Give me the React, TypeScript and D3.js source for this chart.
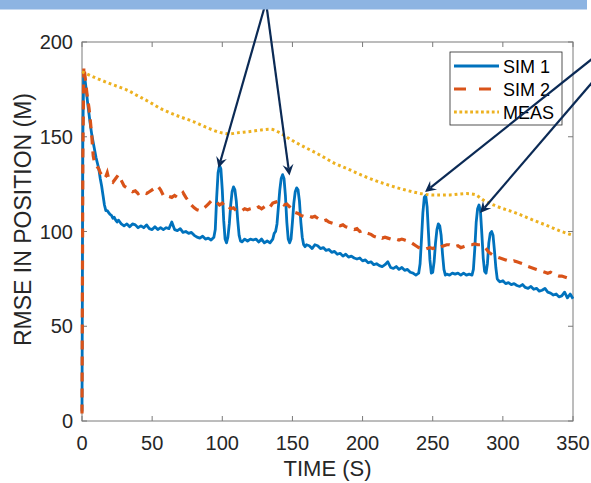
import React from "react";
import * as d3 from "d3";

// ---- Data (time in s, RMSE in m) ----
const sim1: [number, number][] = [
  [0, 5], [0.6, 150], [1.2, 184], [2, 181], [3, 175], [4, 168], [5, 162], [6, 156], [7, 151], [8, 147],
  [9, 143], [10, 139], [11, 136], [12, 133], [13, 128], [14, 124], [15, 119], [16, 114], [17, 111], [18, 111],
  [19, 110], [20, 109], [21, 108.5], [22, 107], [23, 107.5], [24, 106], [25, 105], [26, 106], [27, 105], [28, 104],
  [29, 103.5], [30, 103], [32, 104], [34, 102.5], [36, 104], [38, 103.5], [40, 102], [42, 103], [44, 102], [46, 103.5],
  [48, 101.5], [50, 101], [52, 102.5], [54, 101], [56, 102], [58, 101], [60, 102], [62, 101.5], [64, 105], [65, 103],
  [66, 101], [68, 100.5], [70, 101.5], [72, 99.5], [74, 100], [76, 99], [78, 99.5], [80, 98], [82, 97], [84, 96.5],
  [86, 97.5], [88, 96], [90, 96.5], [92, 95.5], [94, 97], [95, 101], [96, 118], [97, 131], [98, 135], [99, 133],
  [100, 122], [101, 106], [102, 96], [103, 94], [104, 97], [105, 104], [106, 114], [107, 121], [108, 123.5], [109, 122],
  [110, 116], [111, 106], [112, 98], [113, 95], [114, 94.5], [116, 96], [118, 95], [120, 96], [122, 95.5], [124, 96],
  [126, 94.5], [128, 96], [130, 94], [132, 95], [134, 94], [136, 96], [137, 99], [138, 100], [139, 104], [140, 113],
  [141, 122], [142, 128], [143, 130], [144, 128], [145, 119], [146, 105], [147, 96], [148, 94], [149, 96], [150, 105],
  [151, 115], [152, 121], [153, 123], [154, 122], [155, 116], [156, 105], [157, 97], [158, 93], [159, 92], [160, 93],
  [162, 92.5], [164, 91], [166, 93], [168, 92.5], [170, 91], [172, 91.5], [174, 90], [176, 90.5], [178, 89], [180, 89.5],
  [182, 88], [184, 88.5], [186, 87], [188, 88], [190, 86.5], [192, 87], [194, 86], [196, 85.5], [198, 86], [200, 84.5],
  [202, 85], [204, 83.5], [206, 84], [208, 82.5], [210, 83], [212, 82], [214, 81.5], [216, 82.5], [218, 84], [220, 81],
  [222, 80.5], [224, 81.5], [226, 80], [228, 81], [230, 79.5], [232, 80], [234, 78.5], [236, 78], [238, 77], [240, 78],
  [241, 83], [242, 96], [243, 110], [244, 118], [245, 119], [246, 113], [247, 99], [248, 85], [249, 78], [250, 78.5],
  [251, 84], [252, 94], [253, 101], [254, 104], [255, 103], [256, 98], [257, 88], [258, 80], [259, 77], [260, 77.5],
  [262, 77], [264, 78], [266, 77.5], [268, 78], [270, 77], [272, 78], [274, 77], [276, 77.5], [278, 77], [279, 80],
  [280, 91], [281, 105], [282, 112], [283, 114], [284, 111], [285, 99], [286, 86], [287, 79], [288, 78], [289, 83],
  [290, 94], [291, 99], [292, 100], [293, 98], [294, 90], [295, 81], [296, 75], [297, 74], [298, 73.5], [300, 74],
  [302, 72.5], [304, 73], [306, 72], [308, 72.5], [310, 71.5], [312, 71], [314, 72], [316, 70.5], [318, 70], [320, 71],
  [322, 69.5], [324, 70], [326, 68.5], [328, 69], [330, 70], [332, 68], [334, 67.5], [336, 66.5], [338, 67], [340, 65.5],
  [342, 66], [344, 68], [346, 65], [348, 67], [350, 64.5],
];

const sim2: [number, number][] = [
  [0, 4], [0.6, 140], [1.3, 187], [2, 183], [3, 176], [4, 170], [5, 165], [6, 158], [7, 150], [8, 140],
  [9, 136], [10, 135], [11, 134], [12, 133], [13, 131], [14, 130], [15, 129.5], [16, 128], [17, 129], [18, 131],
  [19, 128], [20, 127], [22, 126], [24, 128], [26, 130], [28, 127], [30, 124], [32, 123], [34, 122], [36, 121],
  [38, 121.5], [40, 120], [42, 121], [44, 120.5], [46, 120], [48, 121], [50, 122], [52, 123], [54, 124], [56, 122],
  [58, 119], [60, 118], [62, 118.5], [64, 118], [66, 119], [68, 118], [70, 119], [72, 120.5], [74, 118], [76, 116],
  [78, 114], [80, 112.5], [82, 111.5], [84, 111], [86, 112], [88, 113], [90, 114.5], [92, 116], [94, 115], [96, 115.5],
  [98, 114], [100, 115], [102, 113], [104, 113.5], [106, 112], [108, 112.5], [110, 111], [112, 111.5], [114, 111], [116, 112],
  [118, 111.5], [120, 112], [122, 112.5], [124, 112], [126, 113], [128, 112], [130, 113], [132, 114], [134, 113], [136, 115],
  [138, 115.5], [140, 116], [142, 115], [144, 114], [146, 114.5], [148, 113], [150, 111], [152, 110], [154, 109.5], [156, 108.5],
  [158, 108], [160, 108.5], [162, 108], [164, 107.5], [166, 108], [168, 107], [170, 106], [172, 105.5], [174, 106], [176, 105],
  [178, 104.5], [180, 104], [182, 103.5], [184, 103], [186, 103.5], [188, 102.5], [190, 102], [192, 101.5], [194, 101], [196, 101.5],
  [198, 100], [200, 100.5], [202, 99.5], [204, 99], [206, 98.5], [208, 97.5], [210, 97], [212, 97.5], [214, 96.5], [216, 97],
  [218, 96.5], [220, 96], [222, 96.5], [224, 96], [226, 95.5], [228, 96], [230, 95.5], [232, 95], [234, 94.5], [236, 93.5],
  [238, 92.5], [240, 91.5], [242, 91], [244, 90.5], [246, 91], [248, 91.5], [250, 91], [252, 91.5], [254, 91], [256, 92],
  [258, 92.5], [260, 93], [262, 93], [264, 92.5], [266, 92], [268, 92.5], [270, 91.5], [272, 92], [274, 92.5], [276, 93],
  [278, 93], [280, 93.5], [282, 93], [284, 93], [286, 92.5], [288, 91], [290, 89], [292, 88], [294, 87], [296, 86.5],
  [298, 86], [300, 85.5], [302, 85], [304, 84.5], [306, 84], [308, 84.5], [310, 84], [312, 83.5], [314, 83], [316, 82],
  [318, 81.5], [320, 81], [322, 80.5], [324, 80], [326, 79.5], [328, 79], [330, 78.5], [332, 78], [334, 78.5], [336, 77.5],
  [338, 77], [340, 76.5], [342, 76.5], [344, 76], [346, 75.5], [348, 75.5], [350, 75],
];

const meas: [number, number][] = [
  [0, 184.3], [10, 181], [20, 178], [31.8, 174.7], [40, 171.5], [50, 167.5], [55.6, 165], [60, 163.5], [70, 160.5],
  [79.4, 158], [90, 154.5], [100, 152], [105, 151.5], [110, 152], [120, 152.8], [127, 153.5], [134, 154], [140, 152.5],
  [143.5, 151], [150, 148], [160, 144], [167.3, 141.3], [180, 136], [191, 132.5], [200, 129.5], [214.8, 125.4],
  [230, 122], [243.3, 119.8], [250, 119.2], [262.3, 119.3], [274, 120], [280, 119.5], [286, 116.6], [295, 113.5],
  [309.9, 109.6], [320, 106.5], [333.6, 102.5], [340, 100.5], [350, 98],
];

const xTicks = [0, 50, 100, 150, 200, 250, 300, 350];
const yTicks = [0, 50, 100, 150, 200];
const seriesNames = ["SIM 1", "SIM 2", "MEAS"];
const xTitle = "TIME (S)";
const yTitle = "RMSE IN POSITION (M)";

// arrows: [fromX, fromY, toX, toY] in pixel annotation space (like figure annotations)
const arrows: [number, number, number, number][] = [
  [266, 2, 218.5, 168],
  [266, 2, 289.5, 175.5],
  [602, 51, 425, 192],
  [602, 71, 480, 213],
];

const W = 591;
const H = 483;
const M = { left: 82, right: 18, top: 42, bottom: 62 };
const FONT = "'Liberation Sans', Arial, Helvetica, sans-serif";
const COLORS = ["#0072BD", "#D95319", "#EDB120"];

export default function App() {
  const x = d3.scaleLinear().domain([0, 350]).range([M.left, W - M.right]);
  const y = d3.scaleLinear().domain([0, 200]).range([H - M.bottom, M.top]);
  const line = d3
    .line<[number, number]>()
    .x((d) => x(d[0]))
    .y((d) => y(d[1]));
  const smooth = d3
    .line<[number, number]>()
    .x((d) => x(d[0]))
    .y((d) => y(d[1]))
    .curve(d3.curveMonotoneX);

  const x0 = x(0), x1 = x(350), y0 = y(0), y1 = y(200);
  const axisColor = "#7a7a7a";
  const textColor = "#262626";

  const arrowHead = (fx: number, fy: number, tx: number, ty: number) => {
    const ang = Math.atan2(ty - fy, tx - fx);
    const L = 11, Wd = 5.5, N = 7;
    const ux = Math.cos(ang), uy = Math.sin(ang);
    const px = -uy, py = ux;
    const bx = tx - ux * L, by = ty - uy * L;
    const nx = tx - ux * N, ny = ty - uy * N;
    return `M${tx},${ty}L${bx + px * Wd},${by + py * Wd}L${nx},${ny}L${bx - px * Wd},${by - py * Wd}Z`;
  };

  const legendX = 450, legendY = 52, legendW = 112, legendH = 73;
  const rowY = [66, 89, 112];

  return (
    <svg
      width={W}
      height={H}
      style={{ position: "absolute", left: 0, top: 0, background: "#fff" }}
      fontFamily={FONT}
    >
      <rect x={0} y={0} width={W} height={H} fill="#fff" />
      {/* axes box */}
      <rect x={x0} y={y1} width={x1 - x0} height={y0 - y1} fill="none" stroke={axisColor} strokeWidth={1} />
      {xTicks.map((t) => (
        <g key={"xt" + t}>
          <line x1={x(t)} x2={x(t)} y1={y0} y2={y0 - 5} stroke={axisColor} />
          <line x1={x(t)} x2={x(t)} y1={y1} y2={y1 + 5} stroke={axisColor} />
          <text x={x(t)} y={y0 + 29} textAnchor="middle" fontSize={20} fill={textColor}>
            {t}
          </text>
        </g>
      ))}
      {yTicks.map((t) => (
        <g key={"yt" + t}>
          <line x1={x0} x2={x0 + 5} y1={y(t)} y2={y(t)} stroke={axisColor} />
          <line x1={x1} x2={x1 - 5} y1={y(t)} y2={y(t)} stroke={axisColor} />
          <text x={x0 - 9} y={y(t) + 7} textAnchor="end" fontSize={20} fill={textColor}>
            {t}
          </text>
        </g>
      ))}
      <text x={(x0 + x1) / 2} y={476} textAnchor="middle" fontSize={22} fill={textColor}>
        {xTitle}
      </text>
      <text
        transform={`translate(31,${(y0 + y1) / 2 - 12}) rotate(-90)`}
        textAnchor="middle"
        fontSize={23}
        fill={textColor}
      >
        {yTitle}
      </text>

      {/* series */}
      <path d={line(sim1) ?? ""} fill="none" stroke={COLORS[0]} strokeWidth={2.8} strokeLinejoin="round" />
      <path d={line(sim2) ?? ""} fill="none" stroke={COLORS[1]} strokeWidth={3.2} strokeDasharray="9,7" />
      <path d={smooth(meas) ?? ""} fill="none" stroke={COLORS[2]} strokeWidth={3} strokeDasharray="2.8,3" />

      {/* legend */}
      <rect x={legendX} y={legendY} width={legendW} height={legendH} fill="#fff" stroke="#262626" strokeWidth={0.8} />
      {seriesNames.map((n, i) => (
        <g key={n}>
          <line
            x1={454}
            x2={499}
            y1={rowY[i]}
            y2={rowY[i]}
            stroke={COLORS[i]}
            strokeWidth={i === 0 ? 2.8 : 3}
            strokeDasharray={i === 1 ? "12,13" : i === 2 ? "2.8,2.6" : undefined}
          />
          <text x={503} y={rowY[i] + 7} fontSize={18} fill="#000">
            {n}
          </text>
        </g>
      ))}

      {/* arrows */}
      {arrows.map(([fx, fy, tx, ty], i) => {
        const ang = Math.atan2(ty - fy, tx - fx);
        const ex = tx - Math.cos(ang) * 7, ey = ty - Math.sin(ang) * 7;
        return (
          <g key={"a" + i}>
            <line x1={fx} y1={fy} x2={ex} y2={ey} stroke="#0B2A55" strokeWidth={2.2} />
            <path d={arrowHead(fx, fy, tx, ty)} fill="#0B2A55" />
          </g>
        );
      })}

      {/* top banner */}
      <rect x={0} y={0} width={587} height={9.5} fill="#8DB4E2" />
    </svg>
  );
}
